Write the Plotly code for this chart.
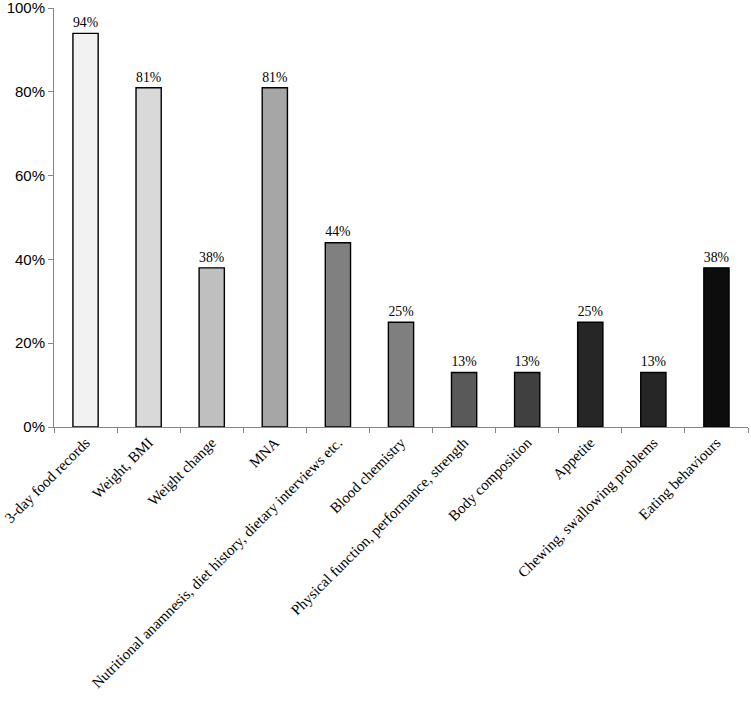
import plotly.graph_objects as go

categories = ["3-day food records", "Weight, BMI", "Weight change", "MNA",
              "Nutritional anamnesis, diet history, dietary interviews etc.",
              "Blood chemistry", "Physical function, performance, strength",
              "Body composition", "Appetite", "Chewing, swallowing problems",
              "Eating behaviours"]
values = [94, 81, 38, 81, 44, 25, 13, 13, 25, 13, 38]
colors = ["#f2f2f2", "#d9d9d9", "#bfbfbf", "#a6a6a6", "#808080", "#7f7f7f",
          "#595959", "#404040", "#262626", "#262626", "#0d0d0d"]
value_labels = [f"{v}%" for v in values]
y_ticks = [0, 20, 40, 60, 80, 100]
y_ticktext = [f"{t}%" for t in y_ticks]

fig = go.Figure(go.Bar(
    x=categories, y=values,
    marker=dict(color=colors, line=dict(color="#000000", width=1.4)),
    text=value_labels, textposition="outside", cliponaxis=False,
    textfont=dict(family="Liberation Serif", size=17, color="#000000"),
    width=0.4,
))

fig.update_layout(
    width=751, height=704,
    margin=dict(l=54, r=3, t=8, b=277),
    plot_bgcolor="white", paper_bgcolor="white",
    showlegend=False,
)
fig.update_xaxes(
    automargin=False, ticklabeloverflow="allow",
    showline=True, linecolor="#868686", linewidth=1,
    ticks="outside", tickson="boundaries", ticklen=5, tickcolor="#868686",
    tickangle=-45,
    tickfont=dict(family="Liberation Serif", size=15, color="#000000"),
    showgrid=False,
)
fig.update_yaxes(
    automargin=False, ticklabeloverflow="allow",
    range=[0, 100.05], tickvals=y_ticks, ticktext=y_ticktext,
    showline=True, linecolor="#868686", linewidth=1,
    ticks="outside", ticklen=5, tickcolor="#868686",
    tickfont=dict(family="Liberation Sans", size=15, color="#000000"),
    showgrid=False, zeroline=False,
)

fig.write_html("out.html", config={"displayModeBar": False},
               post_script="document.body.style.margin='0px';")
